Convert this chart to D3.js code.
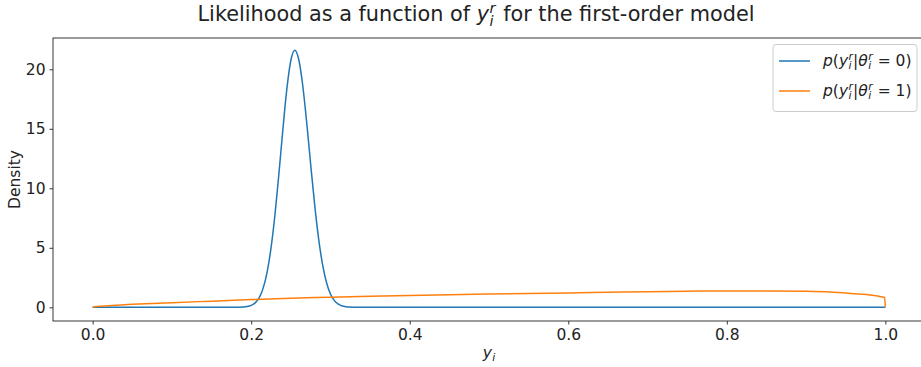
<!DOCTYPE html>
<html><head><meta charset="utf-8">
<script src="https://cdn.jsdelivr.net/npm/d3@7"></script>
<style>
html,body{margin:0;padding:0;background:#fff;}
svg text{font-family:"DejaVu Sans",sans-serif;fill:#222;}
</style></head>
<body><svg id="c" width="921" height="367"></svg>
<script>
// ---- data ----
const blueX = [0, 0.18, 0.19, 0.195, 0.2, 0.205, 0.21, 0.215, 0.22, 0.225, 0.23, 0.235, 0.24, 0.245, 0.25, 0.255,
  0.26, 0.265, 0.27, 0.275, 0.28, 0.285, 0.29, 0.295, 0.3, 0.305, 0.31, 0.315, 0.32, 0.325, 0.33, 0.34, 1.0];
const blueY = [0, 0, 0.02, 0.06, 0.16, 0.37, 0.79, 1.59, 2.92, 4.97, 7.78, 11.24, 14.96, 18.35, 20.74, 21.6,
  20.82, 18.66, 15.55, 12.04, 8.67, 5.80, 3.61, 2.09, 1.12, 0.56, 0.26, 0.11, 0.05, 0.02, 0, 0, 0];
const orangeX = [0, 0.005, 0.01, 0.02, 0.03, 0.05, 0.075, 0.1, 0.15, 0.2, 0.25, 0.3, 0.35, 0.4, 0.45, 0.5,
  0.55, 0.6, 0.65, 0.7, 0.75, 0.8, 0.85, 0.9, 0.93, 0.95, 0.96, 0.97, 0.98, 0.99, 0.995, 0.999, 1.0];
const orangeY = [0, 0.06, 0.09, 0.14, 0.18, 0.25, 0.32, 0.39, 0.52, 0.65, 0.76, 0.85, 0.93, 1.0, 1.06, 1.11,
  1.16, 1.21, 1.26, 1.31, 1.35, 1.38, 1.38, 1.35, 1.29, 1.2, 1.15, 1.1, 1.04, 0.95, 0.88, 0.82, 0];
const xTicks = [0, 0.2, 0.4, 0.6, 0.8, 1.0];
const yTicks = [0, 5, 10, 15, 20];
const seriesNames = ["0", "1"];
const colors = ["#1f77b4", "#ff7f0e"];

// ---- layout ----
const L = 53, R = 925, T = 38, B = 321;
const svg = d3.select("#c");
const x = d3.scaleLinear().domain([-0.05, 1.05]).range([L, R]);
const y = d3.scaleLinear().domain([-1.15, 22.63]).range([B, T]);

// math text helper
function addMath(g, px, py, size, parts, anchor) {
  const t = g.append("text").attr("x", px).attr("y", py)
    .style("font-size", size + "px").attr("text-anchor", anchor || "start");
  let off = 0;
  parts.forEach(p => {
    if (p.ss) {
      const s = size * 0.7;
      const sub = t.append("tspan").text(p.ss[0]).style("font-size", s + "px")
        .style("font-style", "italic").attr("dy", (size * 0.22 - off)).attr("dx", 0.5);
      off = size * 0.22;
      const w = sub.node().getComputedTextLength();
      t.append("tspan").text(p.ss[1]).style("font-size", s + "px")
        .style("font-style", "italic").attr("dx", -w).attr("dy", (-size * 0.38 - off));
      off = -size * 0.38;
    } else {
      const sp = t.append("tspan").text(p.t).attr("dy", -off)
        .style("font-style", p.i ? "italic" : "normal");
      if (p.dx) sp.attr("dx", p.dx);
      off = 0;
    }
  });
  return t;
}

// lines
const line = d3.line().x(d => x(d[0])).y(d => y(d[1])).curve(d3.curveMonotoneX);
svg.append("path").datum(blueX.map((v, i) => [v, blueY[i]]))
  .attr("d", line).attr("fill", "none").attr("stroke", colors[0]).attr("stroke-width", 1.5);
svg.append("path").datum(orangeX.map((v, i) => [v, orangeY[i]]))
  .attr("d", line).attr("fill", "none").attr("stroke", colors[1]).attr("stroke-width", 1.5);

// spines
svg.append("rect").attr("x", L).attr("y", T).attr("width", R - L).attr("height", B - T)
  .attr("fill", "none").attr("stroke", "#222").attr("stroke-width", 0.9);

// axes
const xa = svg.append("g").attr("transform", `translate(0,${B})`)
  .call(d3.axisBottom(x).tickValues(xTicks).tickFormat(d3.format(".1f")).tickSize(3.5).tickPadding(4));
const ya = svg.append("g").attr("transform", `translate(${L},0)`)
  .call(d3.axisLeft(y).tickValues(yTicks).tickFormat(d3.format("d")).tickSize(3.5).tickPadding(4));
[xa, ya].forEach(a => {
  a.select(".domain").remove();
  a.selectAll(".tick line").attr("stroke", "#222").attr("stroke-width", 0.9);
  a.selectAll(".tick text").style("font-size", "15.5px").style("font-family", "DejaVu Sans").attr("fill", "#222");
});

// labels
svg.append("text").attr("transform", `translate(20,${(T + B) / 2}) rotate(-90)`)
  .attr("text-anchor", "middle").style("font-size", "15.5px").text("Density");
addMath(svg, (L + R) / 2, 358, 15.5, [{t: "y", i: true}, {ss: ["i", ""]}], "middle");

// title
addMath(svg, 476, 21, 20.8, [{t: "Likelihood as a function of "}, {t: "y", i: true}, {ss: ["i", "r"]},
  {t: " for the first-order model", dx: 1}], "middle");

// legend
const lg = svg.append("g");
lg.append("rect").attr("x", 773).attr("y", 44.5).attr("width", 144).attr("height", 67)
  .attr("rx", 3).attr("fill", "#fff").attr("fill-opacity", 0.8).attr("stroke", "#ccc").attr("stroke-width", 1);
seriesNames.forEach((n, i) => {
  const ly = 61 + i * 30;
  lg.append("line").attr("x1", 779).attr("x2", 810).attr("y1", ly).attr("y2", ly)
    .attr("stroke", colors[i]).attr("stroke-width", 1.5);
  addMath(lg, 823, ly + 5, 15.5, [{t: "p", i: true}, {t: "("}, {t: "y", i: true}, {ss: ["i", "r"]},
    {t: "|"}, {t: "θ", i: true}, {ss: ["i", "r"]}, {t: " = " + n + ")"}]);
});
</script></body></html>
